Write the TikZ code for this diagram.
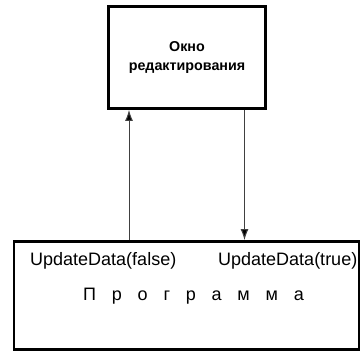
\documentclass[tikz,border=0pt]{standalone}
\usepackage{fontspec}
\setmainfont{Liberation Sans}
\usetikzlibrary{arrows.meta}
\begin{document}
\begin{tikzpicture}[x=1pt,y=-1pt]
\tikzstyle{bx} = [rectangle,draw=black,line width=2.8pt] %box
\tikzstyle{de} = [-{Latex[length=11pt,width=8pt,fill=black]},draw=black!75,line width=1pt] %directed edge
\tikzstyle{lb} = [font=\fontsize{18}{20}\selectfont,inner sep=0pt,anchor=base west] %label
\useasboundingbox (0,0) rectangle (361,352);
\node[bx,minimum width=157pt,minimum height=102pt,align=center,font=\bfseries\fontsize{14.3}{19}\selectfont](okno)at(187,57.5){Окно\\редактирования};
\node[bx,minimum width=345pt,minimum height=108pt](prog)at(186.5,295.5){};
\node[lb](uf)at(30,266){UpdateData(false)};
\node[lb](ut)at(218,266){UpdateData(true)};
\node[lb,anchor=base](pr)at(193.5,301){\spaceskip=15.8pt П р о г р а м м а};
\coordinate(al)at(129,0);
\coordinate(ar)at(244.5,0);
\draw[de](prog.north -| al)--(okno.south -| al);
\draw[de](okno.south -| ar)--(prog.north -| ar);
\end{tikzpicture}
\end{document}
